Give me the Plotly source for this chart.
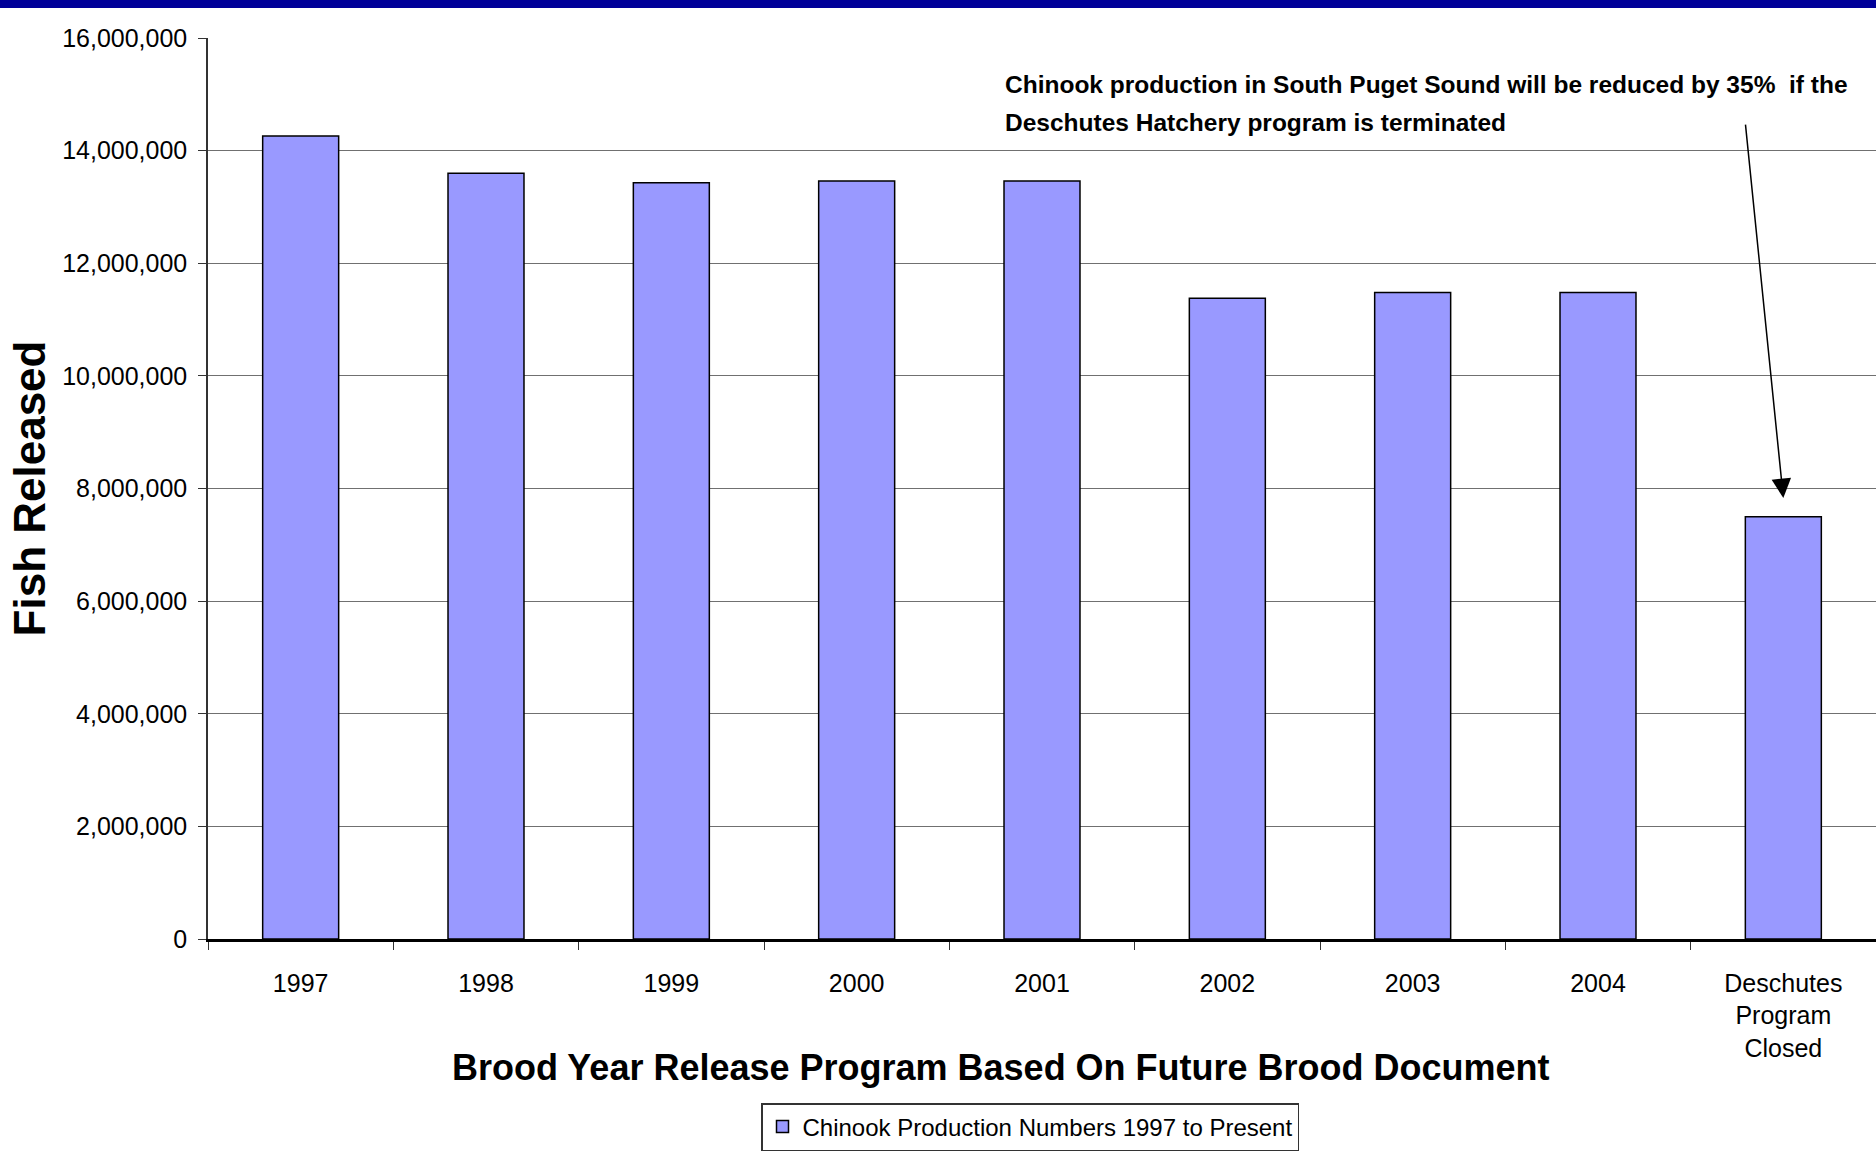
import plotly.graph_objects as go

categories = ["1997", "1998", "1999", "2000", "2001", "2002", "2003", "2004",
              "Deschutes<br>Program<br>Closed"]
fish_released = [14260000, 13600000, 13430000, 13460000, 13460000,
                 11380000, 11480000, 11480000, 7500000]
series_name = "Chinook Production Numbers 1997 to Present"
y_ticks = [0, 2000000, 4000000, 6000000, 8000000, 10000000, 12000000, 14000000, 16000000]
note_lines = ["Chinook production in South Puget Sound will be reduced by 35%  if the",
              "Deschutes Hatchery program is terminated"]
x_title = "Brood Year Release Program Based On Future Brood Document"
y_title = "Fish Released"

W, H = 1876, 1157
L, R, T, B = 208, 0, 38, 218
ph = H - T - B
pw = W - L - R

FONT = "Liberation Sans, Arial, sans-serif"

fig = go.Figure()
fig.add_trace(go.Bar(
    x=categories, y=fish_released, name=series_name,
    marker=dict(color="#9999FF", line=dict(color="#000000", width=1.5)),
    showlegend=True,
))

annotations = []
# note text lines
for i, line in enumerate(note_lines):
    annotations.append(dict(
        text="<b>%s</b>" % line, xref="paper", yref="paper",
        x=(1003 - L) / pw, y=(H - B - (84 + 39 * i)) / ph,
        xanchor="left", yanchor="middle", showarrow=False,
        font=dict(family=FONT, size=24.5, color="#000000"),
    ))
# arrow
annotations.append(dict(
    text="", x=categories[-1], y=7830000, xref="x", yref="y",
    showarrow=True, ax=-38, ay=-375, axref="pixel", ayref="pixel",
    arrowhead=2, arrowsize=2.6, arrowwidth=1.5, arrowcolor="#000000", standoff=0,
))
# x axis title
annotations.append(dict(
    text="<b>%s</b>" % x_title, xref="paper", yref="paper",
    x=(1001 - L) / pw, y=(H - B - 1067) / ph,
    xanchor="center", yanchor="middle", showarrow=False,
    font=dict(family=FONT, size=36, color="#000000"),
))

fig.update_layout(
    width=W, height=H, autosize=False,
    margin=dict(l=L, r=R, t=T, b=B, pad=0),
    paper_bgcolor="#FFFFFF", plot_bgcolor="#FFFFFF",
    font=dict(family=FONT, color="#000000"),
    bargap=0.59,
    showlegend=True,
    legend=dict(
        orientation="h", x=(1030 - L) / pw, xanchor="center",
        y=(H - B - 1103) / ph, yanchor="top",
        bordercolor="#333333", borderwidth=1.5, bgcolor="#FFFFFF",
        font=dict(family=FONT, size=24, color="#000000"),
        itemwidth=30,
    ),
    xaxis=dict(
        type="category", showline=True, linecolor="#000000", linewidth=2.5,
        ticks="outside", tickson="boundaries", ticklen=8, tickcolor="#333333", tickwidth=1,
        tickfont=dict(family=FONT, size=25, color="#000000"),
        ticklabelstandoff=20, showgrid=False, zeroline=False,
    ),
    yaxis=dict(
        range=[0, 16000000], tickvals=y_ticks, tickformat=",d",
        showline=True, linecolor="#333333", linewidth=1.5,
        ticks="outside", ticklen=8, tickcolor="#333333", tickwidth=1,
        tickfont=dict(family=FONT, size=25, color="#000000"),
        ticklabelstandoff=6,
        showgrid=True, gridcolor="#707070", gridwidth=1, zeroline=False,
        title=dict(text="<b>%s</b>" % y_title, standoff=3,
                   font=dict(family=FONT, size=44, color="#000000")),
    ),
    annotations=annotations,
    shapes=[dict(type="rect", xref="paper", yref="paper",
                 x0=-0.2, x1=1.1, y0=1 + (T - 8) / ph, y1=1 + (T + 5) / ph,
                 fillcolor="#000099", line=dict(width=0), layer="above")],
)

fig.write_html("out.html", config={"displayModeBar": False},
               post_script="document.body.style.margin='0';document.body.style.overflow='hidden';")
